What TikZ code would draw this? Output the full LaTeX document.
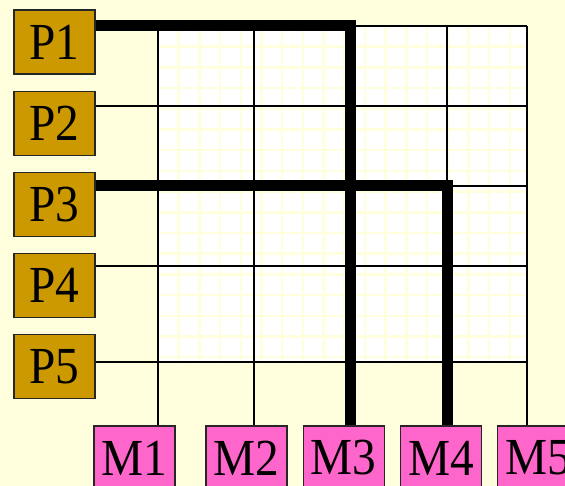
\documentclass[tikz,border=0pt]{standalone}
\usepackage{fontspec}
\setmainfont[FakeStretch=0.91]{Liberation Serif}
\usepackage{tikz}
\usetikzlibrary{positioning, calc}
\definecolor{paper}{RGB}{255,255,221}
\definecolor{procgold}{RGB}{204,153,0}
\definecolor{mempink}{RGB}{255,102,204}
\tikzset{
  proc/.style={
    rectangle, draw=black!85, fill=procgold, line width=1.2pt,
    minimum width=81pt, minimum height=64pt, inner sep=0pt,
    text centered, font=\fontsize{52}{52}\selectfont
  },
  mem/.style={
    rectangle, draw=black!85, fill=mempink, line width=1.2pt,
    minimum width=81pt, minimum height=64pt, inner sep=0pt,
    text centered, font=\fontsize{52}{52}\selectfont
  },
  wire/.style={line width=1.5pt, color=black},
  route/.style={line width=11pt, color=black},
  finegrid/.style={line width=2.5pt, color=paper, step=20.7pt},
}

\begin{document}
\begin{tikzpicture}[x=1pt, y=1pt, node distance=16pt]
  \useasboundingbox (0,0) rectangle (565,486);
  \fill[paper] (0,0) rectangle (565,486);

  % grid columns (top row) and rows (right column)
  \coordinate (c1) at (158,460);
  \coordinate (c2) at (254,460);
  \coordinate (c3) at (350,460);
  \coordinate (c4) at (447,460);
  \coordinate (c5) at (527,460);
  \coordinate (r1) at (527,460);
  \coordinate (r2) at (527,380);
  \coordinate (r3) at (527,300);
  \coordinate (r4) at (527,220);
  \coordinate (r5) at (527,124);

  % switch area
  \fill[white] (c1) rectangle (r5);
  \begin{scope}[shift={(c1)}]
    \clip (0,0) rectangle (369,-336);
    \draw[finegrid] (0,0) grid (369,-336);
  \end{scope}

  \node (P1) [proc] at (54.5,444) {P1};
  \node (P2) [proc, below=of P1] {P2};
  \node (P3) [proc, below=of P2] {P3};
  \node (P4) [proc, below=of P3] {P4};
  \node (P5) [proc, below=of P4] {P5};

  \node (M1) [mem] at (134.5,28) {M1};
  \node (M2) [mem] at (246.5,28) {M2};
  \node (M3) [mem, right=15pt of M2] {M3};
  \node (M4) [mem, right=15pt of M3] {M4};
  \node (M5) [mem, right=15pt of M4] {M5};

  % crossbar
  \draw [wire] (c1) -- (c5);
  \draw [wire] (P2.east |- r2) -- (r2);
  \draw [wire] (c4 |- r3) -- (r3);
  \draw [wire] (P4.east |- r4) -- (r4);
  \draw [wire] (P5.east |- r5) -- (r5);
  \draw [wire] (c1) -- (c1 |- M1.north);
  \draw [wire] (c2) -- (c2 |- M2.north);
  \draw [wire] (c4) -- (c4 |- r3);
  \draw [wire] (c5) -- (c5 |- M5.north);

  % closed switches
  \draw [route] (P1.east |- r1) -- (c3) -- (c3 |- M3.north);
  \draw [route] (P3.east |- r3) -- (c4 |- r3) -- (c4 |- M4.north);
\end{tikzpicture}
\end{document}
